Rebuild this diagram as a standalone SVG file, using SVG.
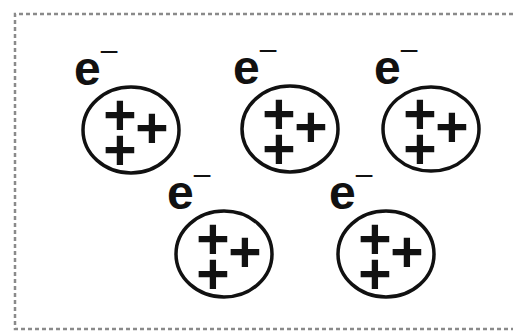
<svg xmlns="http://www.w3.org/2000/svg" width="513" height="333" viewBox="0 0 513 333">
<style>
.frame{fill:none;stroke:#8a8a8a;stroke-width:2.5;stroke-dasharray:4 3}
.nuc{fill:#fff;stroke:#111;stroke-width:3.5}
.e{font-family:"Liberation Sans",Arial,sans-serif;font-weight:bold;font-size:48px;fill:#111}
.m{font-size:30px;font-weight:normal}
.p{font-family:"Liberation Sans",Arial,sans-serif;font-weight:bold;font-size:57px;fill:#111;text-anchor:middle}
</style>
<rect width="513" height="333" fill="#fff"/>
<path class="frame" d="M513,14 H15 V329 H513"/>
<g id="connectors"/>
<g id="atom1" transform="translate(131,130)">
<text class="e" x="-57" y="-45">e<tspan class="m" dy="-25">–</tspan></text>
<ellipse class="nuc" cx="0" cy="0" rx="48" ry="43"/>
<text class="p" x="-11" y="5">+<tspan x="-11" dy="35">+</tspan><tspan x="21" dy="-22">+</tspan></text>
</g>
<g id="atom2" transform="translate(290,129)">
<text class="e" x="-57" y="-45">e<tspan class="m" dy="-25">–</tspan></text>
<ellipse class="nuc" cx="0" cy="0" rx="48" ry="43"/>
<text class="p" x="-11" y="5">+<tspan x="-11" dy="35">+</tspan><tspan x="21" dy="-22">+</tspan></text>
</g>
<g id="atom3" transform="translate(431,129)">
<text class="e" x="-57" y="-45">e<tspan class="m" dy="-25">–</tspan></text>
<ellipse class="nuc" cx="0" cy="0" rx="48" ry="42"/>
<text class="p" x="-11" y="5">+<tspan x="-11" dy="35">+</tspan><tspan x="21" dy="-22">+</tspan></text>
</g>
<g id="atom4" transform="translate(224,254)">
<text class="e" x="-57" y="-45">e<tspan class="m" dy="-25">–</tspan></text>
<ellipse class="nuc" cx="0" cy="0" rx="48" ry="43"/>
<text class="p" x="-11" y="5">+<tspan x="-11" dy="35">+</tspan><tspan x="21" dy="-22">+</tspan></text>
</g>
<g id="atom5" transform="translate(386,254)">
<text class="e" x="-57" y="-45">e<tspan class="m" dy="-25">–</tspan></text>
<ellipse class="nuc" cx="0" cy="0" rx="48" ry="43"/>
<text class="p" x="-11" y="5">+<tspan x="-11" dy="35">+</tspan><tspan x="21" dy="-22">+</tspan></text>
</g>
</svg>
